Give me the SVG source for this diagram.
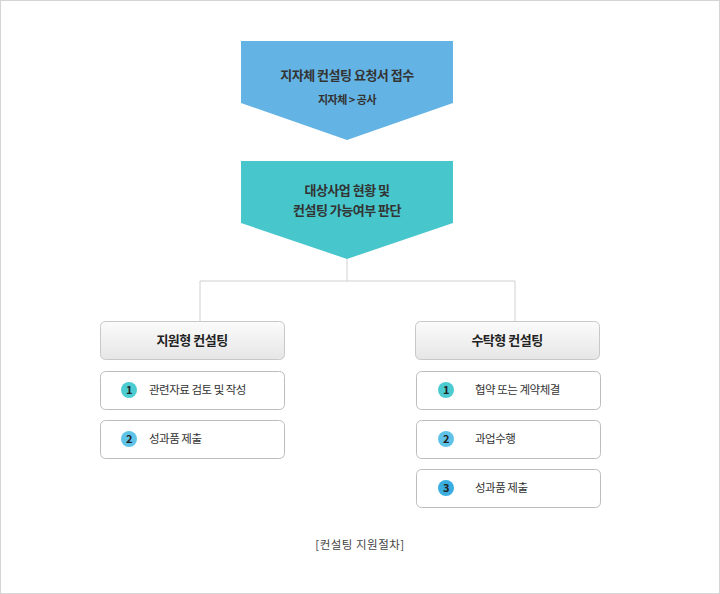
<svg xmlns="http://www.w3.org/2000/svg" width="720" height="594" viewBox="0 0 720 594">
<defs>
<linearGradient id="hg" x1="0" y1="0" x2="0" y2="1"><stop offset="0" stop-color="#fbfbfb"/><stop offset="1" stop-color="#e6e6e6"/></linearGradient>
<style>
text{font-family:"Noto Sans CJK KR","Noto Sans",sans-serif;fill:#333;letter-spacing:-0.5px}
.t{font-size:13px;font-weight:bold;text-anchor:middle}
.s{font-size:11px;font-weight:bold;text-anchor:middle}
.h{font-size:13px;font-weight:bold;text-anchor:middle;fill:#222}
.i{font-size:11.5px}
.box{fill:#fff;stroke:#bdbdbd;stroke-width:1}
.hdr{fill:url(#hg);stroke:#c8c8c8;stroke-width:1}
.n{font-size:11px;font-weight:bold;text-anchor:middle;fill:#222}
.line{fill:none;stroke:#d0d0d0;stroke-width:1}
</style>
</defs>
<rect x="0.5" y="0.5" width="719" height="593" fill="#fff" stroke="#d5d5d5"/>
<g id="connectors">
<path class="line" d="M347 259V281M200 321V281H515V321"/>
</g>
<g id="step1">
<path d="M241 41H453V103L347 140L241 103Z" fill="#63b4e4"/>
<text class="t" x="347" y="80">지자체 컨설팅 요청서 접수</text>
<text class="s" x="347" y="104">지자체 &gt; 공사</text>
</g>
<g id="step2">
<path d="M241 161H453V223L347 259L241 223Z" fill="#47c6cc"/>
<text class="t" x="347" y="195">대상사업 현황 및</text>
<text class="t" x="347" y="215">컨설팅 가능여부 판단</text>
</g>
<g id="left-header"><rect class="hdr" x="100.5" y="321.5" width="184" height="38" rx="5"/><text class="h" x="192" y="345">지원형 컨설팅</text></g>
<g id="left-1"><rect class="box" x="100.5" y="371.5" width="184" height="38" rx="5"/><circle cx="129" cy="390" r="8" fill="#4ccbd0"/><text class="n" x="129" y="394">1</text><text class="i" x="149" y="394">관련자료 검토 및 작성</text></g>
<g id="left-2"><rect class="box" x="100.5" y="420.5" width="184" height="38" rx="5"/><circle cx="129" cy="439" r="8" fill="#5fc3e8"/><text class="n" x="129" y="443">2</text><text class="i" x="149" y="443">성과품 제출</text></g>
<g id="right-header"><rect class="hdr" x="415.5" y="321.5" width="184" height="38" rx="5"/><text class="h" x="507" y="345">수탁형 컨설팅</text></g>
<g id="right-1"><rect class="box" x="416.5" y="371.5" width="184" height="38" rx="5"/><circle cx="446" cy="390" r="8" fill="#4ccbd0"/><text class="n" x="446" y="394">1</text><text class="i" x="475" y="394">협약 또는 계약체결</text></g>
<g id="right-2"><rect class="box" x="416.5" y="420.5" width="184" height="38" rx="5"/><circle cx="446" cy="439" r="8" fill="#5fc3e8"/><text class="n" x="446" y="443">2</text><text class="i" x="475" y="443">과업수행</text></g>
<g id="right-3"><rect class="box" x="416.5" y="469.5" width="184" height="38" rx="5"/><circle cx="446" cy="488" r="8" fill="#3aaee0"/><text class="n" x="446" y="492">3</text><text class="i" x="475" y="492">성과품 제출</text></g>
<text x="360" y="549" style="font-size:11.5px;text-anchor:middle;fill:#444;letter-spacing:0.5px">[컨설팅 지원절차]</text>
</svg>
